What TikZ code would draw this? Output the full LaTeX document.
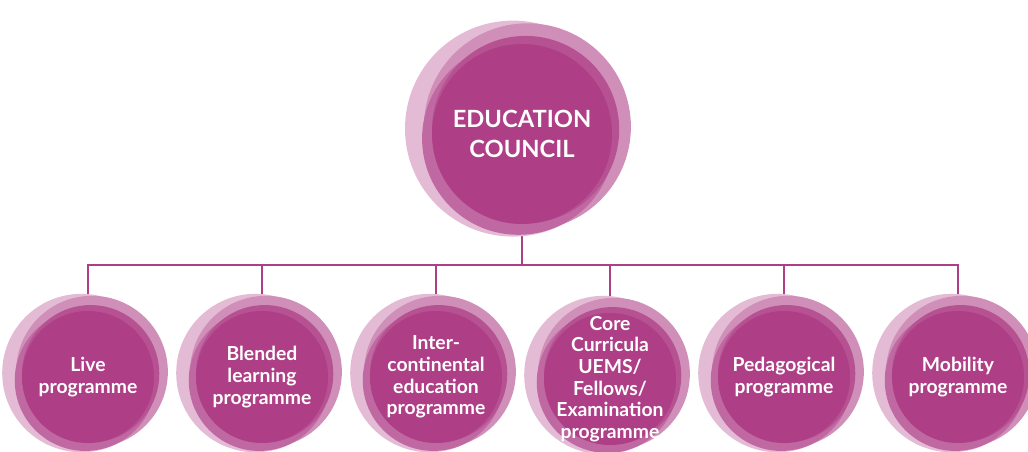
\documentclass[tikz,border=0pt]{standalone}
\usepackage{fontspec}
\setmainfont{Lato}
\usepackage{tikz}
\usetikzlibrary{backgrounds}
\definecolor{plum}{RGB}{174,62,134}
\tikzset{
  ringA/.style = {fill=plum!35},
  ringB/.style = {fill=plum!58},
  ringC/.style = {fill=plum!78},
  ringD/.style = {fill=plum!90},
  bub/.style   = {circle,text=white,inner sep=0pt,align=center,font=\bfseries},
  bigtxt/.style   = {font=\fontsize{13.5}{17}\selectfont\bfseries},
  smalltxt/.style = {font=\fontsize{11}{12.3}\selectfont\bfseries},
  link/.style  = {plum,line width=0.85pt}
}
% stacked circles, solid disc and the text node on top
% #1 name, #2 x, #3 y, #4 radius (px), #5 text style, #6 text
\newcommand{\bubble}[6]{%
  \fill[ringA] (#2-0.10*#4,#3-0.06*#4) circle (1.20*#4);
  \fill[ringB] (#2+0.06*#4,#3-0.08*#4) circle (1.15*#4);
  \fill[ringC] (#2-0.04*#4,#3+0.05*#4) circle (1.07*#4);
  \fill[ringD] (#2+0.04*#4,#3-0.05*#4) circle (1.04*#4);
  \fill[plum] (#2,#3) circle (#4);
  \node[bub,#5,minimum size={2*#4*0.02cm}] (#1) at (#2,#3) {#6};
}

\begin{document}
\begin{tikzpicture}[x=0.02cm,y=-0.02cm]
  \useasboundingbox (0,0) rectangle (1028,451);

  \bubble{council}{522}{134}{90}{bigtxt}{EDUCATION\\COUNCIL}

  \bubble{live}{88}{377}{66}{smalltxt}{Live\\programme}
  \bubble{blended}{262}{377}{66}{smalltxt}{Blended\\learning\\programme}
  \bubble{inter}{436}{377}{66}{smalltxt}{Inter-\\continental\\education\\programme}
  \bubble{core}{610}{379}{66}{smalltxt}{Core\\Curricula\\UEMS/\\Fellows/\\Examination\\programme}
  \bubble{peda}{784}{377}{66}{smalltxt}{Pedagogical\\programme}
  \bubble{mobil}{958}{377}{66}{smalltxt}{Mobility\\programme}

  \coordinate (bus) at (522,265);

  \begin{scope}[on background layer]
    \draw[link] (council) -- (bus);
    \foreach \n in {live,blended,inter,core,peda,mobil}
      \draw[link] (\n) |- (bus);
  \end{scope}
\end{tikzpicture}
\end{document}
